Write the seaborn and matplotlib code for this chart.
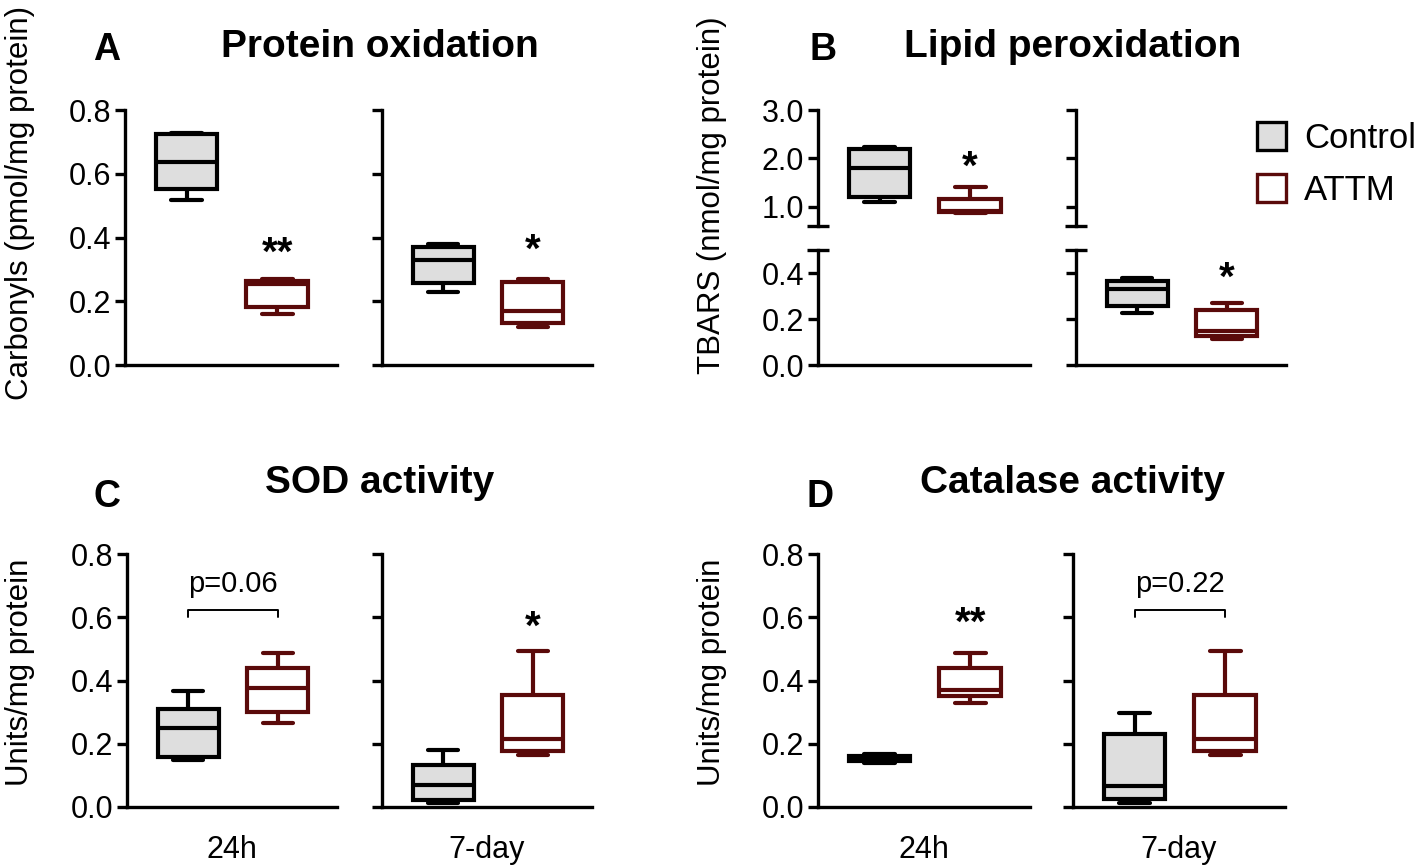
import numpy as np
import pandas as pd
import matplotlib
matplotlib.use("Agg")
import matplotlib.pyplot as plt
import seaborn as sns
from matplotlib.patches import Patch
from matplotlib.ticker import FormatStrFormatter

groups = ["Control", "ATTM"]
times = ["24h", "7-day"]

# box summaries: min, q1, median, q3, max
carb_ctrl_24h = [0.518, 0.552, 0.638, 0.724, 0.728]
carb_attm_24h = [0.159, 0.183, 0.255, 0.262, 0.270]
carb_ctrl_7d = [0.229, 0.258, 0.329, 0.369, 0.379]
carb_attm_7d = [0.118, 0.131, 0.170, 0.259, 0.270]

tbars_ctrl_24h = [1.10, 1.21, 1.80, 2.20, 2.24]
tbars_attm_24h = [0.86, 0.89, 0.92, 1.16, 1.40]
tbars_ctrl_7d = [0.228, 0.257, 0.329, 0.367, 0.378]
tbars_attm_7d = [0.114, 0.124, 0.150, 0.239, 0.270]

sod_ctrl_24h = [0.150, 0.157, 0.249, 0.310, 0.367]
sod_attm_24h = [0.265, 0.301, 0.375, 0.438, 0.486]
sod_ctrl_7d = [0.013, 0.023, 0.070, 0.134, 0.179]
sod_attm_7d = [0.165, 0.176, 0.215, 0.355, 0.494]

cat_ctrl_24h = [0.140, 0.147, 0.155, 0.162, 0.168]
cat_attm_24h = [0.328, 0.352, 0.370, 0.438, 0.486]
cat_ctrl_7d = [0.013, 0.025, 0.065, 0.232, 0.296]
cat_attm_7d = [0.165, 0.176, 0.215, 0.355, 0.494]

# significance marks (text, y position) over the ATTM box
stars_carb = [("**", 0.35), ("*", 0.357)]
stars_tbars = [("*", 1.80), ("*", 0.375)]
stars_sod = [None, ("*", 0.566)]
stars_cat = [("**", 0.58), None]
pval_sod_24h = "p=0.06"
pval_cat_7d = "p=0.22"

face = {"Control": "#dedede", "ATTM": "white"}
edge = {"Control": "black", "ATTM": "#5a0a0a"}
LW = 2.4
BOX_LW = 3.0

sns.set_style("ticks")
plt.rcParams["font.family"] = ["Liberation Sans", "DejaVu Sans"]
plt.rcParams.update({"text.color": "black", "axes.labelcolor": "black",
                     "xtick.color": "black", "ytick.color": "black",
                     "axes.edgecolor": "black"})

W, H = 1418, 865
fig = plt.figure(figsize=(W / 100, H / 100), dpi=100)


def px_axes(l, r, t, b):
    return fig.add_axes([l / W, 1 - b / H, (r - l) / W, (b - t) / H])


def frame(ctrl, attm):
    return pd.DataFrame({"group": ["Control"] * len(ctrl) + ["ATTM"] * len(attm),
                         "value": ctrl + attm})


def draw_boxes(ax, df):
    for g in groups:
        sub = df[df.group == g]
        sns.boxplot(data=sub, x="group", y="value", order=groups, ax=ax,
                    width=0.68, whis=(0, 100), color=face[g], linecolor=edge[g],
                    linewidth=BOX_LW, saturation=1, fill=True)


def style(ax, ylim, ticks, show_labels, bottom=True):
    ax.set_xlim(-0.68, 1.66)
    ax.set_ylim(*ylim)
    ax.set_yticks(ticks)
    ax.yaxis.set_major_formatter(FormatStrFormatter("%.1f"))
    sns.despine(ax=ax, bottom=not bottom)
    for s in ["left", "bottom"]:
        ax.spines[s].set_linewidth(LW)
    ax.set_xticks([])
    ax.tick_params(axis="y", length=7, width=LW, labelsize=22, pad=3)
    ax.set_xlabel("")
    ax.set_ylabel("")
    if not show_labels:
        ax.set_yticklabels([])


def mark(ax, star):
    if star is not None:
        ax.text(1, star[1], star[0], ha="center", va="center",
                fontsize=29, fontweight="bold")


def bracket(ax, label):
    ax.plot([0, 0, 1, 1], [0.60, 0.623, 0.623, 0.60], color="black", lw=1.4)
    ax.text(0.5, 0.705, label, ha="center", va="center", fontsize=21)


# Panel A
a_frames = [frame(carb_ctrl_24h, carb_attm_24h), frame(carb_ctrl_7d, carb_attm_7d)]
for i, (l, r) in enumerate([(125, 337), (382, 592)]):
    ax = px_axes(l, r, 110, 365)
    draw_boxes(ax, a_frames[i])
    style(ax, (0, 0.8), [0, 0.2, 0.4, 0.6, 0.8], i == 0)
    mark(ax, stars_carb[i])

# Panel B (broken axis)
b_frames = [frame(tbars_ctrl_24h, tbars_attm_24h), frame(tbars_ctrl_7d, tbars_attm_7d)]
for i, (l, r) in enumerate([(818, 1030), (1076, 1286)]):
    top = px_axes(l, r, 110, 226)
    draw_boxes(top, b_frames[i])
    style(top, (0.6, 3.0), [1.0, 2.0, 3.0], i == 0, bottom=False)
    top.set_yticks([0.6], minor=True)
    top.tick_params(axis="y", which="minor", direction="inout", length=16, width=LW)
    low = px_axes(l, r, 250, 365)
    draw_boxes(low, b_frames[i])
    style(low, (0, 0.5), [0, 0.2, 0.4], i == 0)
    low.set_yticks([0.5], minor=True)
    low.tick_params(axis="y", which="minor", direction="inout", length=16, width=LW)
    if i == 0:
        mark(top, stars_tbars[0])
    else:
        mark(low, stars_tbars[1])

# Panel C
c_frames = [frame(sod_ctrl_24h, sod_attm_24h), frame(sod_ctrl_7d, sod_attm_7d)]
for i, (l, r) in enumerate([(127, 337), (382, 592)]):
    ax = px_axes(l, r, 554, 807)
    draw_boxes(ax, c_frames[i])
    style(ax, (0, 0.8), [0, 0.2, 0.4, 0.6, 0.8], i == 0)
    mark(ax, stars_sod[i])
    ax.set_xlabel(times[i], fontsize=22, labelpad=20)
    if i == 0:
        bracket(ax, pval_sod_24h)

# Panel D
d_frames = [frame(cat_ctrl_24h, cat_attm_24h), frame(cat_ctrl_7d, cat_attm_7d)]
for i, (l, r) in enumerate([(818, 1030), (1073, 1285)]):
    ax = px_axes(l, r, 554, 807)
    draw_boxes(ax, d_frames[i])
    style(ax, (0, 0.8), [0, 0.2, 0.4, 0.6, 0.8], i == 0)
    mark(ax, stars_cat[i])
    ax.set_xlabel(times[i], fontsize=22, labelpad=20)
    if i == 1:
        bracket(ax, pval_cat_7d)

# titles, letters, y labels
for x, y, s in [(380, 47, "Protein oxidation"), (1073, 47, "Lipid peroxidation"),
                (380, 483, "SOD activity"), (1073, 483, "Catalase activity")]:
    fig.text(x / W, 1 - y / H, s, ha="center", va="center", fontsize=28, fontweight="bold")
for x, y, s in [(107, 50, "A"), (823, 50, "B"), (107, 497, "C"), (820, 497, "D")]:
    fig.text(x / W, 1 - y / H, s, ha="center", va="center", fontsize=27, fontweight="bold")
for x, y, s in [(20, 203, "Carbonyls (pmol/mg protein)"), (712, 195, "TBARS (nmol/mg protein)"),
                (20, 672, "Units/mg protein"), (712, 672, "Units/mg protein")]:
    fig.text(x / W, 1 - y / H, s, ha="center", va="center", rotation=90, fontsize=22.5)

handles = [Patch(facecolor=face[g], edgecolor=edge[g], linewidth=LW, label=g) for g in groups]
fig.legend(handles=handles, loc="upper left", bbox_to_anchor=(1243 / W, 1 - 108 / H),
           frameon=False, fontsize=25, handlelength=0.85, handleheight=0.85,
           handletextpad=0.5, labelspacing=0.55, borderaxespad=0)

fig.savefig("out.png", dpi=100)
